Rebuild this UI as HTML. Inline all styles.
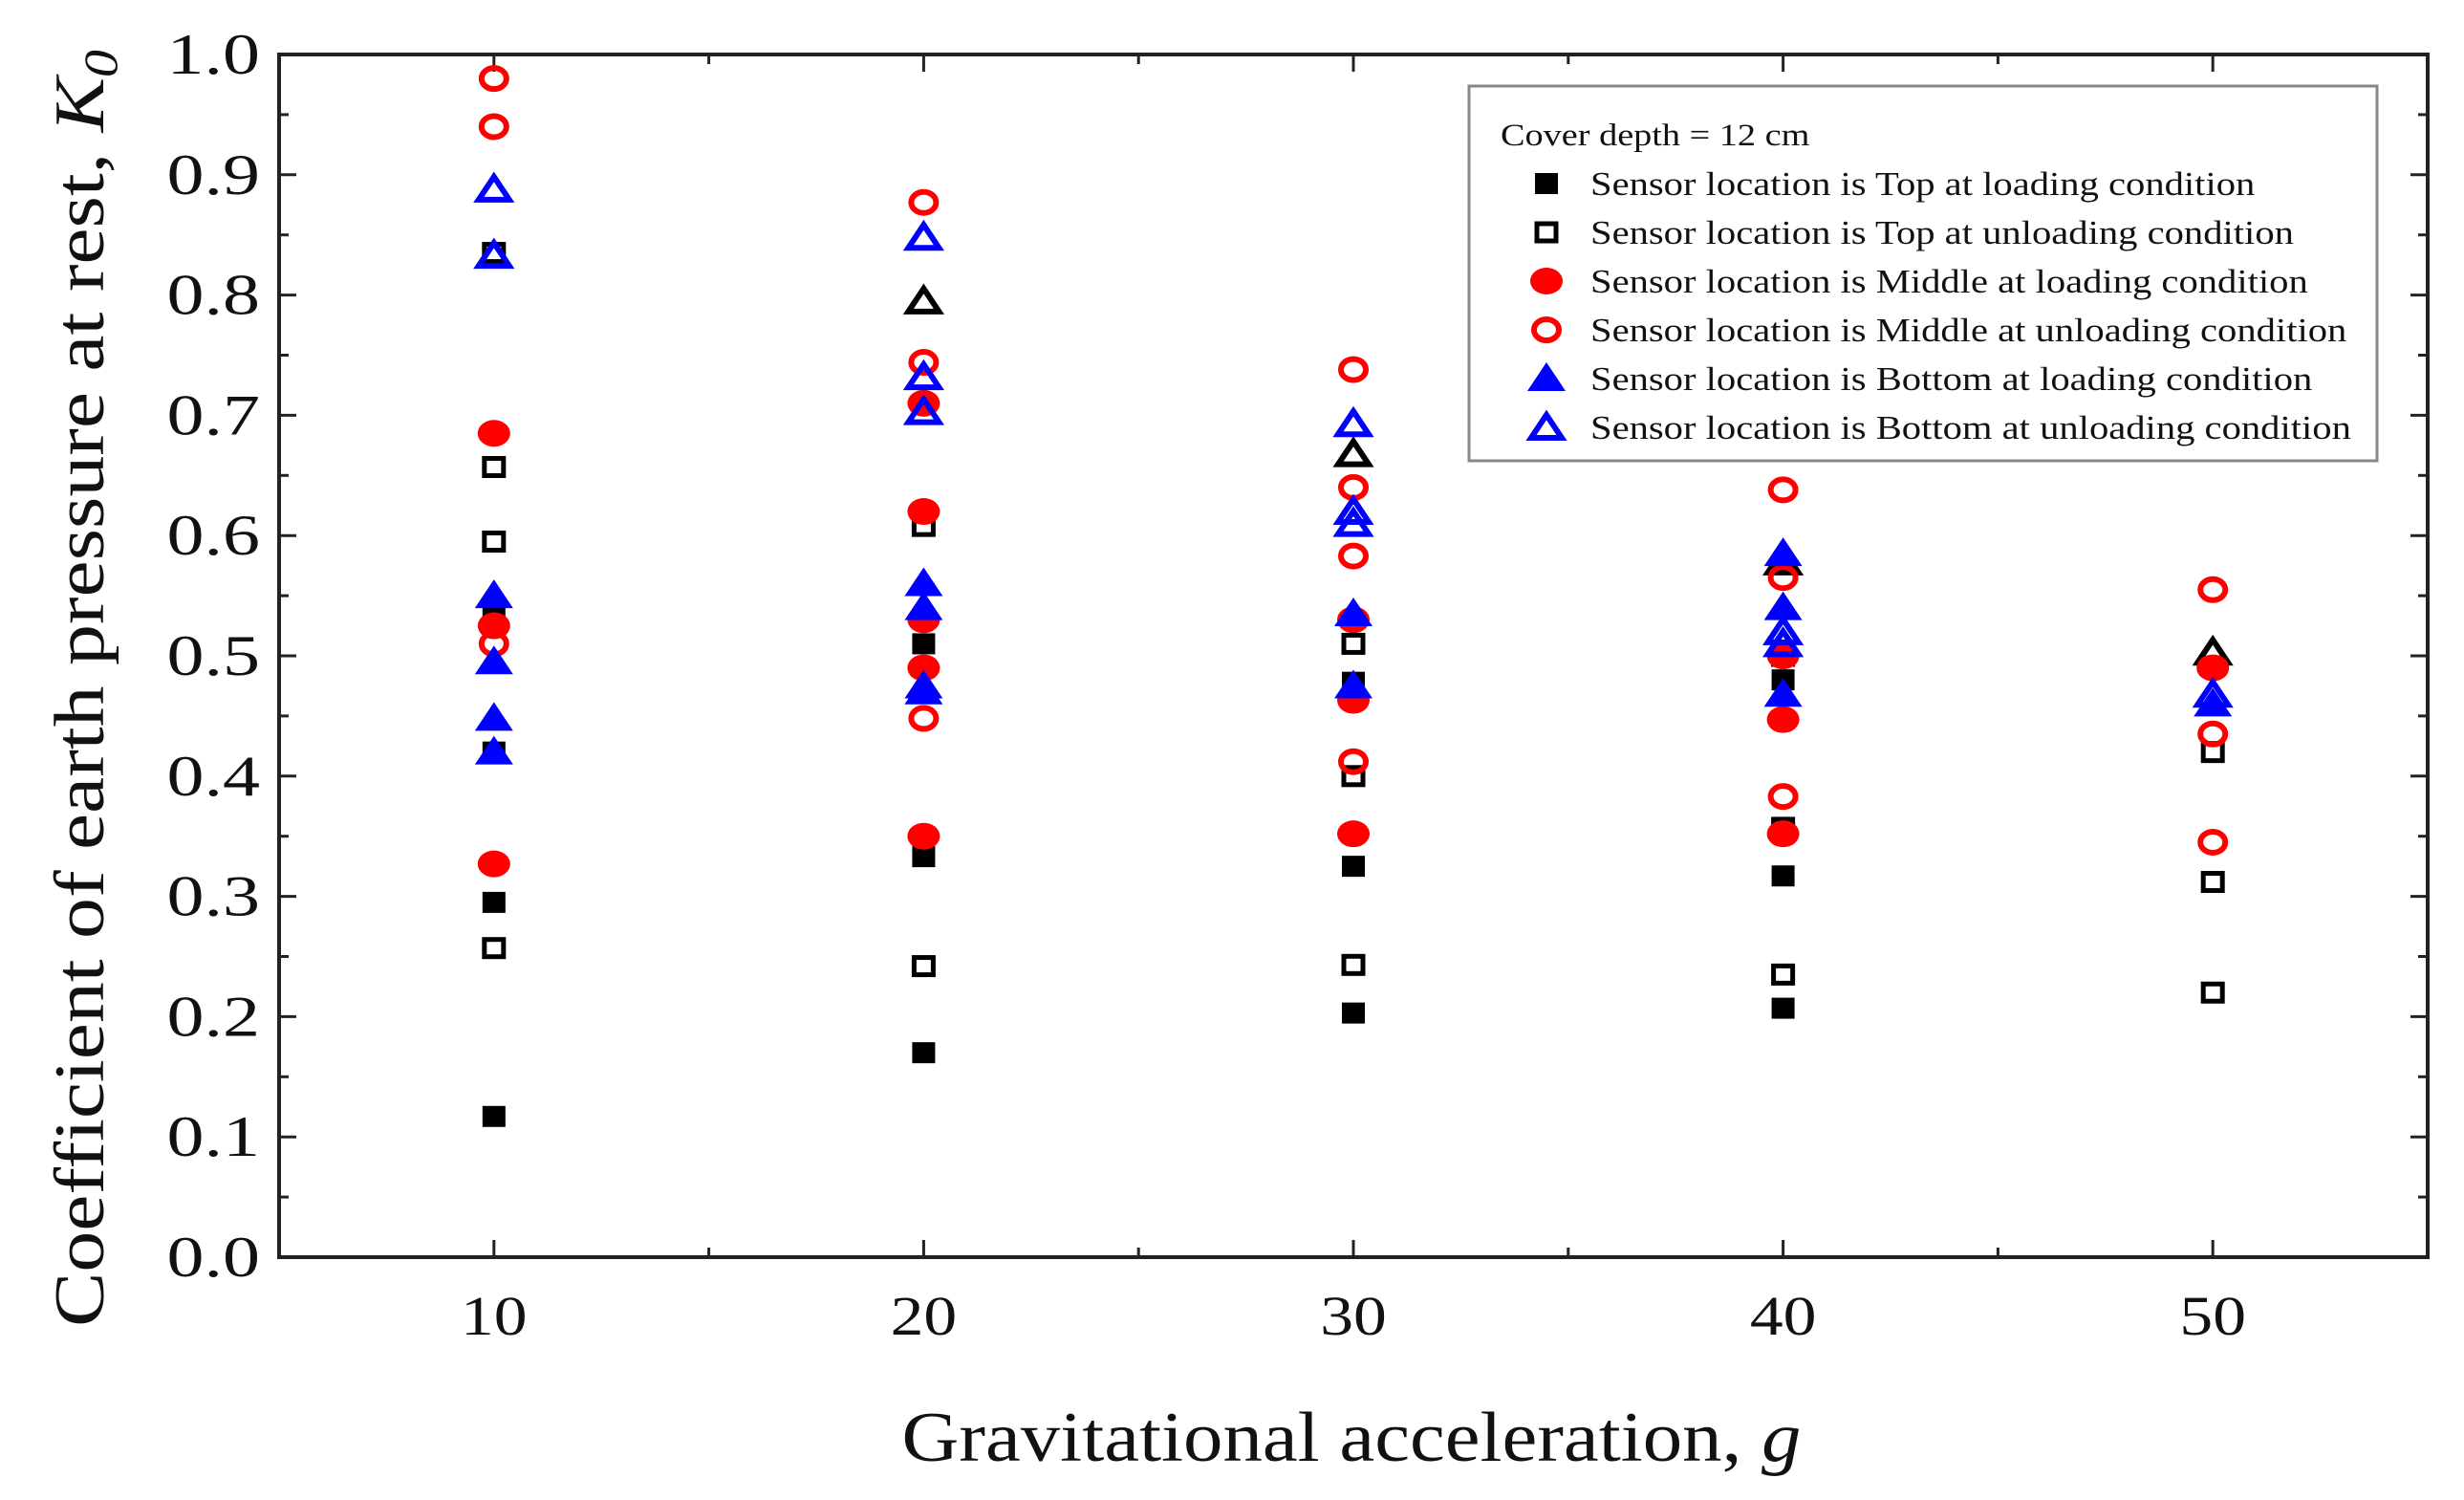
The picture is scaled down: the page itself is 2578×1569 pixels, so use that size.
<!DOCTYPE html>
<html><head><meta charset="utf-8"><style>
html,body{margin:0;padding:0;background:#fff}
svg{display:block}
text{font-family:"Liberation Serif",serif;fill:#111}
</style></head><body>
<svg id="chart" width="2578" height="1569" viewBox="0 0 2578 1569" xmlns="http://www.w3.org/2000/svg">
<g id="axes"></g>
<g id="marks"></g>
<g id="legend"></g>
</svg>
<script>
const xCats = [10, 20, 30, 40, 50];
const yTicks = [0.0, 0.1, 0.2, 0.3, 0.4, 0.5, 0.6, 0.7, 0.8, 0.9, 1.0];
const topLoading = [[10,0.117],[10,0.295],[10,0.42],[10,0.535],[20,0.17],[20,0.333],[20,0.51],[30,0.203],[30,0.325],[30,0.478],[40,0.207],[40,0.317],[40,0.48]];
const topUnloading = [[10,0.257],[10,0.595],[10,0.657],[10,0.835],[20,0.242],[20,0.608],[30,0.243],[30,0.4],[30,0.51],[40,0.235],[40,0.357],[40,0.5],[50,0.22],[50,0.312],[50,0.42]];
const midLoading = [[10,0.327],[10,0.525],[10,0.685],[20,0.35],[20,0.49],[20,0.53],[20,0.62],[20,0.71],[30,0.352],[30,0.463],[30,0.53],[40,0.352],[40,0.447],[40,0.5],[50,0.49]];
const midUnloading = [[10,0.98],[10,0.94],[10,0.51],[20,0.877],[20,0.744],[20,0.448],[30,0.738],[30,0.64],[30,0.583],[30,0.412],[40,0.638],[40,0.565],[40,0.5],[40,0.383],[50,0.555],[50,0.435],[50,0.345]];
const botLoading = [[10,0.42],[10,0.448],[10,0.495],[10,0.55],[20,0.47],[20,0.475],[20,0.54],[20,0.56],[30,0.475],[30,0.535],[40,0.468],[40,0.54],[40,0.585],[50,0.46]];
const botUnloading = [[10,0.888],[10,0.833],[20,0.848],[20,0.732],[20,0.703],[30,0.693],[30,0.62],[30,0.61],[40,0.52],[40,0.51],[50,0.468]];
const blackTriangles = [[20,0.795],[30,0.668],[40,0.578],[50,0.503]];
const legendLabels = ["Sensor location is Top at loading condition","Sensor location is Top at unloading condition","Sensor location is Middle at loading condition","Sensor location is Middle at unloading condition","Sensor location is Bottom at loading condition","Sensor location is Bottom at unloading condition"];

const NS="http://www.w3.org/2000/svg";
const L=292,R=2540,T=57,B=1315,X0=5,X1=55;
const sx=v=>L+(v-X0)/(X1-X0)*(R-L);
const sy=v=>B-v*(B-T);
function mk(tag,attrs,parent){const e=document.createElementNS(NS,tag);for(const k in attrs)e.setAttribute(k,attrs[k]);parent.appendChild(e);return e;}
function stext(x,y,size,anchor,sc,parent){return mk('text',{x:0,y:0,'font-size':size,'text-anchor':anchor,transform:`translate(${x},${y}) scale(${sc},1)`},parent);}
const axes=document.getElementById('axes'),marks=document.getElementById('marks'),leg=document.getElementById('legend');

let frame=mk('rect',{x:L,y:T,width:R-L,height:B-T,fill:'none',stroke:'#222','stroke-width':4},axes);



for(let i=0;i<=20;i++){
  const v=i*0.05,y=sy(v),len=(i%2===0)?18:10;
  mk('line',{x1:L,x2:L+len,y1:y,y2:y,stroke:'#222','stroke-width':3},axes);
  mk('line',{x1:R,x2:R-len,y1:y,y2:y,stroke:'#222','stroke-width':3},axes);
}
yTicks.forEach(v=>{
  const t=stext(272,sy(v)+20,60,'end',1.3,axes);
  t.textContent=v.toFixed(1);
  
  
});
for(let v=10;v<=50;v+=5){
  const x=sx(v),len=(v%10===0)?18:10;
  mk('line',{x1:x,x2:x,y1:B,y2:B-len,stroke:'#222','stroke-width':3},axes);
  mk('line',{x1:x,x2:x,y1:T,y2:T+len,stroke:'#222','stroke-width':3},axes);
}
xCats.forEach(v=>{
  const t=stext(sx(v),1396,58,'middle',1.2,axes);
  t.textContent=String(v);
  
  
});
let xt=stext(1414,1528,74,'middle',1.12,axes);
xt.innerHTML='Gravitational acceleration, <tspan font-style="italic">g</tspan>';


let yt=mk('text',{x:0,y:0,'text-anchor':'middle','font-size':74,transform:'translate(108,720) rotate(-90) scale(1.16,1)'},axes);
yt.innerHTML='Coefficient of earth pressure at rest, <tspan font-style="italic">K</tspan><tspan font-style="italic" font-size="50" dy="14">0</tspan>';



function marker(kind,cx,cy,parent){
  let e;
  if(kind==='sqF') e=mk('rect',{x:cx-12,y:cy-11,width:24,height:22,fill:'#000'},parent);
  else if(kind==='sqO') e=mk('rect',{x:cx-10,y:cy-9,width:20,height:18,fill:'none',stroke:'#000','stroke-width':5},parent);
  else if(kind==='cF') e=mk('ellipse',{cx:cx,cy:cy,rx:17,ry:14,fill:'#f00'},parent);
  else if(kind==='cO') e=mk('ellipse',{cx:cx,cy:cy,rx:13,ry:11,fill:'none',stroke:'#f00','stroke-width':6},parent);
  else if(kind==='tF') e=mk('polygon',{points:`${cx},${cy-17} ${cx-20},${cy+13} ${cx+20},${cy+13}`,fill:'#00f'},parent);
  else if(kind==='tO') e=mk('polygon',{points:`${cx},${cy-13} ${cx-16},${cy+11} ${cx+16},${cy+11}`,fill:'none',stroke:'#00f','stroke-width':6},parent);
  else if(kind==='tK') e=mk('polygon',{points:`${cx},${cy-13} ${cx-16},${cy+11} ${cx+16},${cy+11}`,fill:'none',stroke:'#000','stroke-width':6},parent);
  return e;
}
const series=[[topLoading,'sqF','top-loading'],[topUnloading,'sqO','top-unloading'],[blackTriangles,'tK','black-triangle'],[midLoading,'cF','middle-loading'],[midUnloading,'cO','middle-unloading'],[botLoading,'tF','bottom-loading'],[botUnloading,'tO','bottom-unloading']];
series.forEach(([data,kind,name])=>{
  data.forEach(([x,y])=>{
    const e=marker(kind,sx(x),sy(y),marks);
    
    
  });
});

let lb=mk('rect',{x:1537,y:90,width:950,height:392,fill:'#fff',stroke:'#888','stroke-width':3},leg);


let lt=stext(1570,152,33,'start',1.16,leg);
lt.textContent='Cover depth = 12 cm';


const legKinds=['sqF','sqO','cF','cO','tF','tO'];
legendLabels.forEach((s,i)=>{
  const y=192+i*51;
  const m=marker(legKinds[i],1618,y,leg);
  
  
  const t=stext(1664,y+12,35,'start',1.16,leg);
  t.textContent=s;
  
  
});
</script>
</body></html>
